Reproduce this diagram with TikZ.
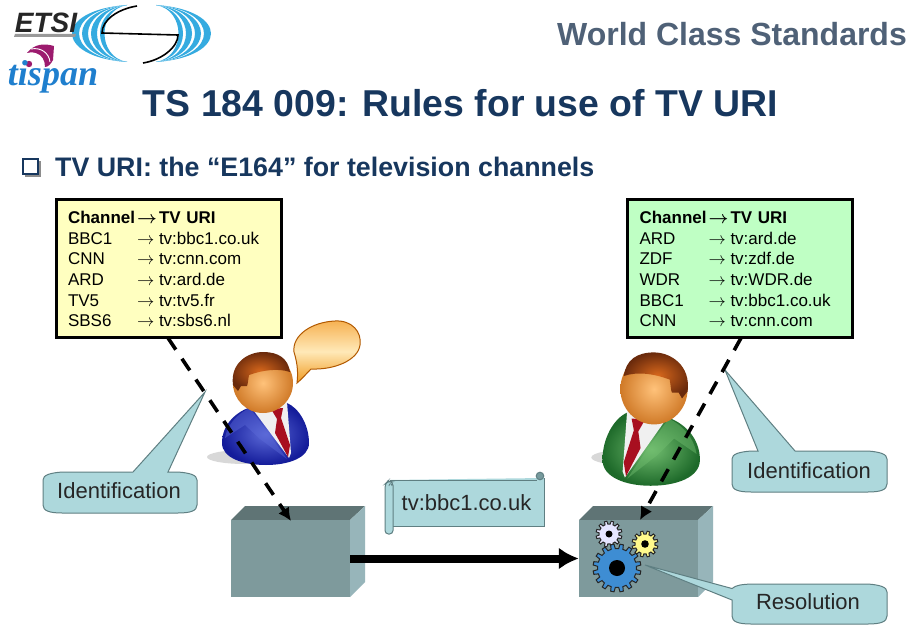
\documentclass[tikz,border=0pt]{standalone}
\usepackage{fontspec}
\setmainfont{Liberation Sans}
\newfontfamily\serifit{Liberation Serif}
\usetikzlibrary{arrows.meta,calc}
\definecolor{navy}{HTML}{17375E}
\definecolor{slate}{HTML}{4F6177}
\definecolor{callfill}{HTML}{ADD8DC}
\definecolor{callline}{HTML}{5F7F82}
\definecolor{yellowbg}{HTML}{FFFFC0}
\definecolor{greenbg}{HTML}{BFFFC4}
\definecolor{boxfront}{HTML}{7E9A9C}
\definecolor{boxtop}{HTML}{5F7475}
\definecolor{boxside}{HTML}{97B5BA}
\definecolor{logoblue}{HTML}{35ABE0}
\definecolor{tispanblue}{HTML}{1F7FCE}
\definecolor{tispanmag}{HTML}{9C1B6E}
\definecolor{suitbluein}{HTML}{5C6AD8}
\definecolor{suitblueout}{HTML}{141C9A}
\definecolor{suitgreenin}{HTML}{72BE70}
\definecolor{suitgreenout}{HTML}{1E6A2A}
\definecolor{facein}{HTML}{FFC27A}
\definecolor{faceout}{HTML}{D07A28}
\definecolor{hairin}{HTML}{D8681C}
\definecolor{hairout}{HTML}{6A2A0C}
\definecolor{tiered}{HTML}{A80F20}
\definecolor{bubbletop}{HTML}{F6B050}
\definecolor{bubblemid}{HTML}{FFE9B8}
\definecolor{bubblebot}{HTML}{F09A20}
\tikzset{
  chanbox/.style={draw=black,line width=3pt,inner xsep=0pt,inner ysep=0pt,minimum width=225pt,minimum height=138pt,text width=201pt,align=left,font=\fontsize{17}{20.6}\selectfont},
  callshape/.style={draw=callline,fill=callfill,line width=1pt},
  calltext/.style={anchor=base,inner sep=0pt,font=\fontsize{22}{26}\selectfont,text=black!85},
  frontface/.style={fill=boxfront,draw=none,minimum width=119pt,minimum height=77pt,inner sep=0pt},
  dashlink/.style={draw=black,line width=3.6pt,dash pattern=on 14pt off 11pt,-{Latex[length=13pt,width=13pt]}},
  flowlink/.style={draw=black,line width=8pt,-{Latex[length=20pt,width=22pt]}},
  gearline/.style={draw=black!85,line width=1pt}
}
\newcommand{\arr}{$\rightarrow$}
\newcommand{\chantable}[5]{%
  \raisebox{-3pt}[\height][\depth]{\begin{tabular}{@{}p{69pt}@{}p{22pt}@{}l@{}}
  \textbf{Channel} & \boldmath\arr & \textbf{TV URI}\\
  #1\\ #2\\ #3\\ #4\\ #5
  \end{tabular}}}
\newcommand{\cogwheel}[7]{% x y teeth router rinner rhole fill
  \begin{scope}[shift={(#1,#2)}]
  \pgfmathsetmacro{\stp}{360/#3}
  \draw[gearline,fill=#7] (0:#5)
    \foreach \i in {1,...,#3} {
      -- ({(\i-1)*\stp+0.22*\stp}:#5) -- ({(\i-1)*\stp+0.32*\stp}:#4)
      -- ({(\i-1)*\stp+0.68*\stp}:#4) -- ({(\i-1)*\stp+0.78*\stp}:#5)
      -- ({\i*\stp}:#5)
    } -- cycle;
  \fill[black] (0,0) circle (#6);
  \end{scope}}
\newcommand{\personfig}[8]{% x y xscale yscale bodyin bodyout shadowx shadowy
  \begin{scope}[shift={(#1,#2)},xscale=#3,yscale=#4]
  \fill[black!25,opacity=.6] (#7,#8) ellipse (38 and 7);
  \shade[inner color=#5,outer color=#6] (-41,60) .. controls (-41,40) and (-25,28) .. (-12,24)
    -- (24,20) .. controls (36,25) and (46,42) .. (46,60)
    .. controls (46,75) and (25,82) .. (3,82) .. controls (-20,82) and (-41,75) .. (-41,60) -- cycle;
  \fill[#5,opacity=.45] (-13,25) .. controls (-25,30) and (-36,42) .. (-38,55) -- (-18,42) -- (-3,56) -- (24,76) -- cycle;
  \fill[black!6] (-12,24) -- (24,19) -- (28,70) -- (26,75) -- cycle;
  \fill[tiered] (8,26) -- (20,25) -- (18,35) -- (27,62) -- (25,74) -- (12,50) -- (14,36) -- cycle;
  \shade[inner color=facein,outer color=faceout] (0,0) circle (30);
  \shade[inner color=hairin,outer color=hairout] (-30,2) .. controls (-33,-20) and (-15,-31) .. (0,-31)
    .. controls (15,-31) and (25,-25) .. (27,-11) .. controls (15,-15) and (0,-13) .. (-14,-8)
    .. controls (-15,-3) and (-15,1) .. (-16,3) -- (-22,3) -- (-25,8) -- cycle;
  \end{scope}}
\begin{document}
\begin{tikzpicture}[x=1pt,y=-1pt]
\useasboundingbox (0,0) rectangle (921,634);
\fill[white] (0,0) rectangle (921,634);

% --- logo
\begin{scope}
  \foreach \a/\b in {53.7/63,67/75,79/87,91/97}{
    \fill[logoblue] (127,5) .. controls (\a,10) and (\a,57) .. (127,62) .. controls (\b,57) and (\b,10) .. (127,5);
  }
\end{scope}
\begin{scope}[xshift=283pt,xscale=-1]
  \foreach \a/\b in {53.7/63,67/75,79/87,91/97}{
    \fill[logoblue] (127,5) .. controls (\a,10) and (\a,57) .. (127,62) .. controls (\b,57) and (\b,10) .. (127,5);
  }
\end{scope}
\draw[black,line width=1.6pt] (137,6) .. controls (118,9) and (102,20) .. (102,33) -- (178,35)
  .. controls (178,47) and (162,60) .. (143,63);
\fill[black!40] (15,34) -- (76,34) -- (75,37) -- (14,37) -- cycle;
\node[anchor=base,inner sep=0pt,font=\fontsize{28}{30}\selectfont\bfseries\itshape,text=black!85] (etsi) at (46,33) {ETSI};
\fill[tispanmag] (27,53) .. controls (34,44) and (44,43) .. (54,46) -- (53,60) .. controls (51,64) and (48,67) .. (45,67)
  .. controls (45,60) and (42,55) .. (36,53) .. controls (33,52) and (30,52) .. (27,53) -- cycle;
\draw[white,line width=.9pt] (31,49) .. controls (41,47) and (49,53) .. (50,62);
\fill[tispanmag] (29,64) circle (3.2);
\node[anchor=base,inner sep=0pt,font=\serifit\fontsize{36}{38}\selectfont\bfseries\itshape,text=tispanblue] (tispan) at (53,85) {tispan};

% --- headings
\node[anchor=base,inner sep=0pt,font=\fontsize{32}{35}\selectfont\bfseries,text=slate] (wcs) at (732,46) {World Class Standards};
\node[anchor=base,inner sep=0pt,font=\fontsize{37.4}{41}\selectfont\bfseries,text=navy] (title) at (460.5,116) {TS 184 009: Rules for use of TV URI};
\fill[black!45] (25,161) rectangle (41,177);
\draw[navy,fill=white,line width=1.6pt] (23,159) rectangle (38,174);
\node[anchor=base west,inner sep=0pt,font=\fontsize{26.8}{30}\selectfont\bfseries,text=navy] (sub) at (55,176) {TV URI: the “E164” for television channels};

% --- boxes
\node[chanbox,fill=yellowbg] (ytable) at (168.5,268) {\chantable{BBC1 & \arr & tv:bbc1.co.uk}{CNN & \arr & tv:cnn.com}{ARD & \arr & tv:ard.de}{TV5 & \arr & tv:tv5.fr}{SBS6 & \arr & tv:sbs6.nl}};
\node[chanbox,fill=greenbg] (gtable) at (740,268) {\chantable{ARD & \arr & tv:ard.de}{ZDF & \arr & tv:zdf.de}{WDR & \arr & tv:WDR.de}{BBC1 & \arr & tv:bbc1.co.uk}{CNN & \arr & tv:cnn.com}};

% --- people
\personfig{263}{383}{1}{1}{suitbluein}{suitblueout}{-18}{74}
\personfig{654}{389}{-1.12}{1.18}{suitgreenin}{suitgreenout}{18}{58}

% --- speech bubble
\shade[draw=orange!70!black,line width=1pt,top color=bubbletop,bottom color=bubblebot,middle color=bubblemid]
  (297,383) .. controls (298,374) and (298,365) .. (294,352)
  .. controls (292,335) and (312,322) .. (335,321)
  .. controls (352,320) and (362,332) .. (360,345)
  .. controls (358,360) and (335,370) .. (311,369)
  .. controls (306,374) and (302,379) .. (297,383) -- cycle;

% --- 3D boxes
\fill[boxtop] (231,520) -- (245,506) -- (365,506) -- (350,520) -- cycle;
\fill[boxside] (350,520) -- (365,506) -- (365,582) -- (350,597) -- cycle;
\node[frontface] (src) at (290.5,558.5) {};
\fill[boxtop] (579,520) -- (593,506) -- (713,506) -- (698,520) -- cycle;
\fill[boxside] (698,520) -- (713,506) -- (713,582) -- (698,597) -- cycle;
\node[frontface] (dst) at (638.5,558.5) {};

% --- gears
\cogwheel{609}{534}{12}{13}{10}{3.5}{blue!10!white}
\cogwheel{645}{544}{12}{13}{10}{3.8}{yellow!45!white}
\cogwheel{617}{568}{16}{24}{19.5}{8}{cyan!60!blue!80!white}

% --- callouts
\draw[callshape] (62,472) -- (133,472) -- (205,392) -- (168,472) -- (178,472)
  .. controls (190,473) and (197,475) .. (197,480) -- (197,505)
  .. controls (197,511) and (190,513) .. (178,513) -- (62,513)
  .. controls (50,513) and (43,511) .. (43,505) -- (43,480)
  .. controls (43,475) and (50,473) .. (62,472) -- cycle;
\node[calltext] (idl) at (119,498) {Identification};
\draw[callshape] (751,451) -- (758,451) -- (725,370) -- (795,451) -- (868,451)
  .. controls (880,452) and (887,454) .. (887,459) -- (887,484)
  .. controls (887,490) and (880,492) .. (868,492) -- (751,492)
  .. controls (739,492) and (732,490) .. (732,484) -- (732,459)
  .. controls (732,454) and (739,452) .. (751,451) -- cycle;
\node[calltext] (idr) at (809,478) {Identification};
\draw[callshape] (751,584) -- (868,584)
  .. controls (880,585) and (887,587) .. (887,592) -- (887,616)
  .. controls (887,622) and (880,624) .. (868,624) -- (751,624)
  .. controls (739,624) and (732,622) .. (732,616) -- (732,600) -- (645,565) -- (732,588.5)
  .. controls (736,585) and (742,584.5) .. (751,584) -- cycle;
\node[calltext] (res) at (808,609) {Resolution};

% --- scroll
\fill[callfill] (390,480) -- (544,478) -- (544,526) -- (390,526) -- cycle;
\draw[callshape,fill=none] (390,480) -- (537,480) (544,478) -- (544,526) -- (392,526);
\draw[callshape,rounded corners=3.5pt] (385,484) -- (385,534) -- (393,534) -- (393,482) -- (388,481) -- cycle;
\draw[callline,line width=.8pt] (389,486) .. controls (389,483) and (392,483) .. (392,486);
\draw[callshape,fill=callline!70!callfill] (540,476) circle (3.8);
\node[calltext] (tv) at (466.5,510) {tv:bbc1.co.uk};

% --- connectors
\coordinate (ydash) at (168,338);
\coordinate (gdash) at (741,338);
\coordinate (srcin) at (291,521);
\coordinate (dstin) at (640,520);
\draw[dashlink] (ydash) -- (srcin);
\draw[dashlink] (gdash) -- (dstin);
\draw[flowlink] (src.east) -- (dst.west);
\end{tikzpicture}
\end{document}
